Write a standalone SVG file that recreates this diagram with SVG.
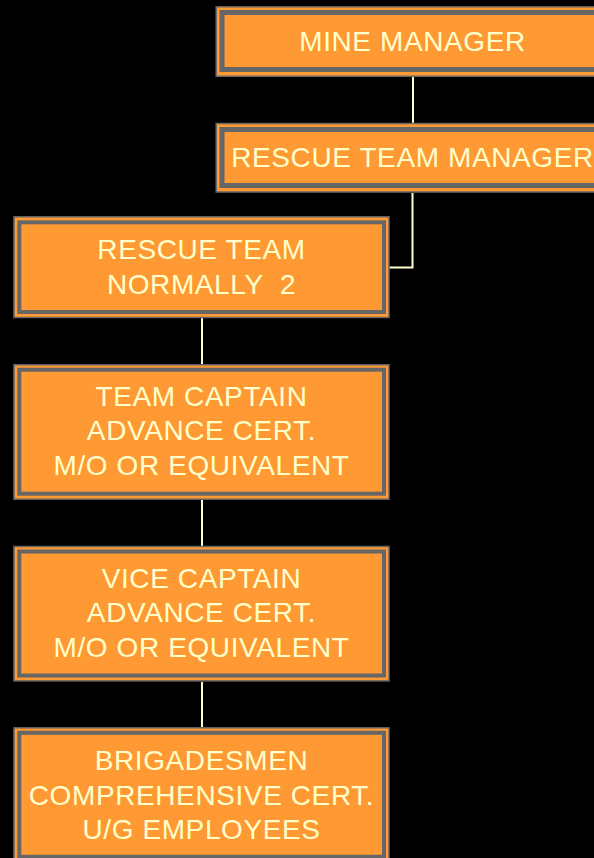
<svg xmlns="http://www.w3.org/2000/svg" width="594" height="858" viewBox="0 0 594 858">
<style>
.outer{fill:#FF9933;stroke:#666666;stroke-width:1.5}
.inner{fill:none;stroke:#666666;stroke-width:4}
.innerT{fill:none;stroke:#666666;stroke-width:5}
.t{font-family:"Liberation Sans",Arial,sans-serif;font-size:28px;letter-spacing:0.6px;fill:#FFFFCC;text-anchor:middle}
.c{stroke:#FFFFCC;stroke-width:2;fill:none}
</style>
<rect width="594" height="858" fill="#000000"/>
<g id="connectors">
<line class="c" x1="413" y1="77" x2="413" y2="123"/>
<polyline class="c" points="412.5,193 412.5,267.5 389,267.5"/>
<line class="c" x1="202" y1="318" x2="202" y2="364"/>
<line class="c" x1="202" y1="500" x2="202" y2="546"/>
<line class="c" x1="202" y1="682" x2="202" y2="727"/>
</g>
<g id="mine-manager">
<rect class="outer" x="216.2" y="6.8" width="392.5" height="69.5"/>
<rect class="innerT" x="222" y="12.5" width="381" height="57"/>
<text class="t" x="412.5" y="51">MINE MANAGER</text>
</g>
<g id="rescue-team-manager">
<rect class="outer" x="216.2" y="123.5" width="392.5" height="68.5"/>
<rect class="innerT" x="222" y="129.5" width="381" height="56"/>
<text class="t" x="412.5" y="166.5">RESCUE TEAM MANAGER</text>
</g>
<g id="rescue-team">
<rect class="outer" x="14" y="216.8" width="375" height="100.7"/>
<rect class="inner" x="19.3" y="222.3" width="364.7" height="89.7"/>
<text class="t" x="201.5" y="258.5">RESCUE TEAM</text>
<text class="t" x="201.5" y="293.5" xml:space="preserve">NORMALLY  2</text>
</g>
<g id="team-captain">
<rect class="outer" x="14" y="364.8" width="375" height="134.4"/>
<rect class="inner" x="19.3" y="369.7" width="364.7" height="124"/>
<text class="t" x="201.5" y="405.7">TEAM CAPTAIN</text>
<text class="t" x="201.5" y="440.3">ADVANCE CERT.</text>
<text class="t" x="201.5" y="475">M/O OR EQUIVALENT</text>
</g>
<g id="vice-captain">
<rect class="outer" x="14" y="546.5" width="375" height="134.4"/>
<rect class="inner" x="19.3" y="551.5" width="364.7" height="124"/>
<text class="t" x="201.5" y="587.7">VICE CAPTAIN</text>
<text class="t" x="201.5" y="622.3">ADVANCE CERT.</text>
<text class="t" x="201.5" y="657">M/O OR EQUIVALENT</text>
</g>
<g id="brigadesmen">
<rect class="outer" x="14" y="727.8" width="375" height="134.4"/>
<rect class="inner" x="19.3" y="732.8" width="364.7" height="124"/>
<text class="t" x="201.5" y="770">BRIGADESMEN</text>
<text class="t" x="201.5" y="804.5">COMPREHENSIVE CERT.</text>
<text class="t" x="201.5" y="839">U/G EMPLOYEES</text>
</g>
</svg>
